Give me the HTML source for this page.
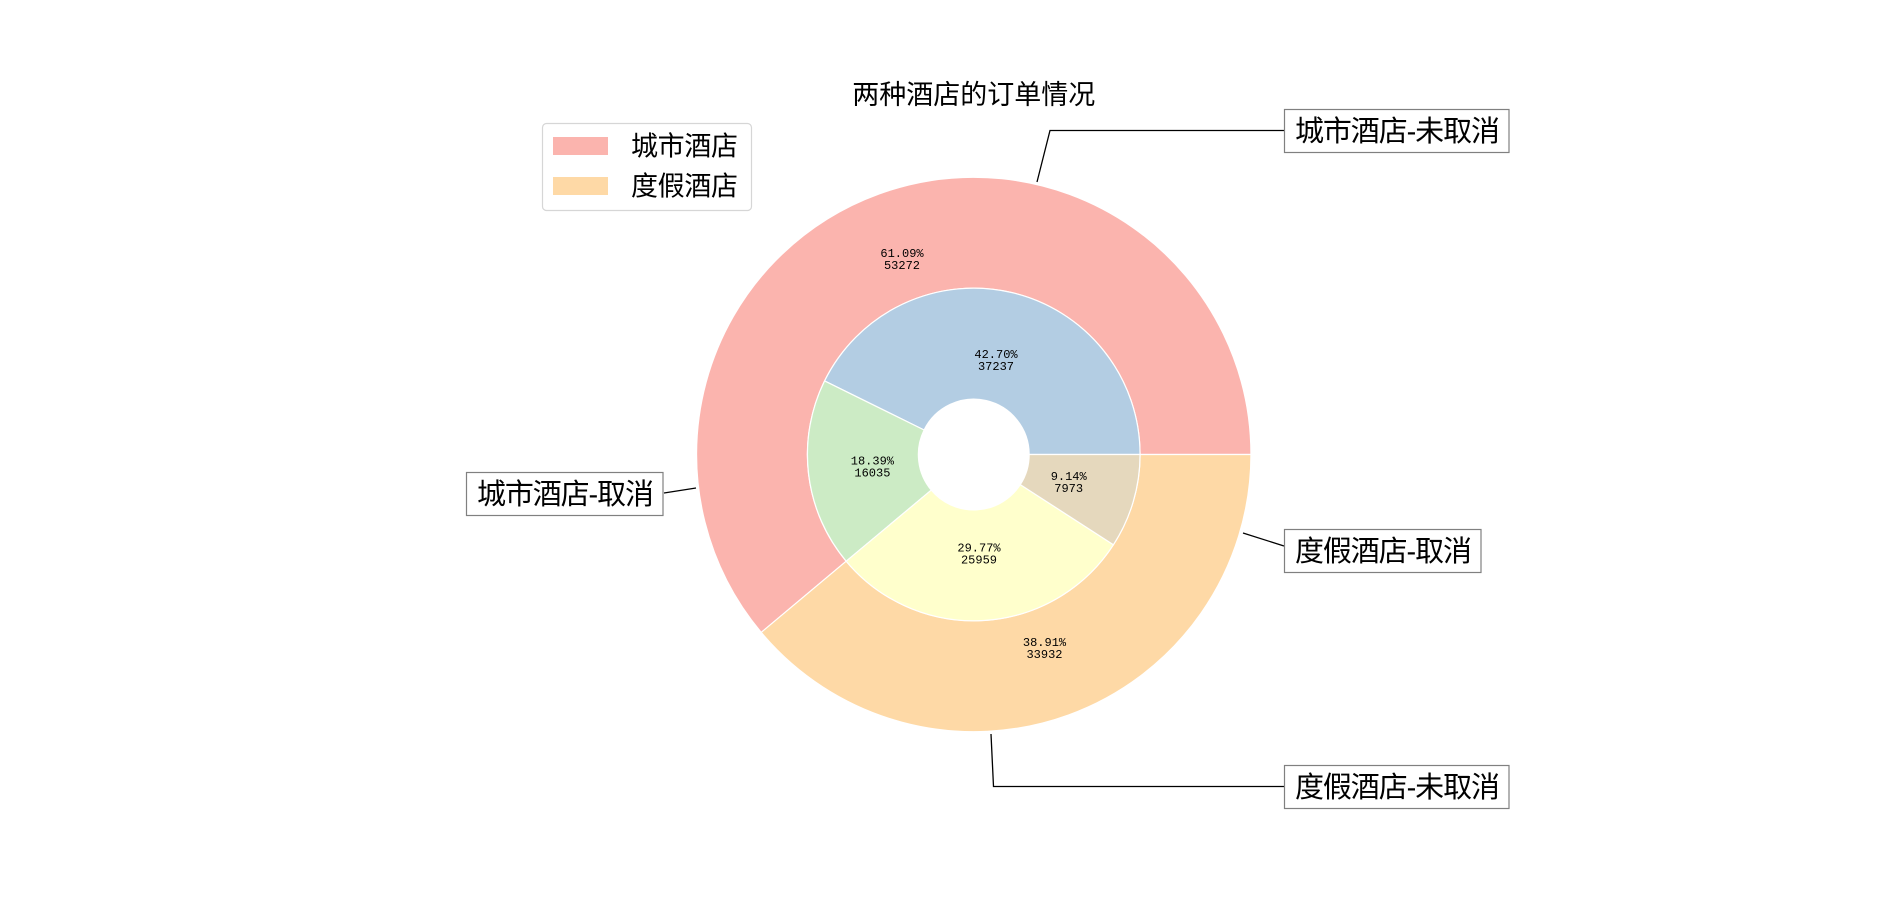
<!DOCTYPE html>
<html><head><meta charset="utf-8"><style>
html,body{margin:0;padding:0;background:#fff;}
svg{display:block;}
.cjk{font-family:"Liberation Sans","Noto Sans CJK SC",sans-serif;}
.lbl{font-family:"Liberation Mono","Noto Sans CJK SC",monospace;font-size:12px;fill:#000;}
</style></head><body>
<svg width="1900" height="900" viewBox="0 0 1900 900" xmlns="http://www.w3.org/2000/svg">
<rect width="1900" height="900" fill="#fff"/>
<g stroke="#fff" stroke-width="1.2" stroke-linejoin="round">
<path d="M1250.95,454.5 A277.2,277.2 0 1 0 761.2,632.4 L846.2,561.2 A166.3,166.3 0 1 1 1140.05,454.5 Z" fill="#fbb4ae"/>
<path d="M761.2,632.4 A277.2,277.2 0 0 0 1250.95,454.5 L1140.05,454.5 A166.3,166.3 0 0 1 846.2,561.2 Z" fill="#fed9a6"/>
<path d="M1140.05,454.5 A166.3,166.3 0 0 0 824.6,380.9 L924.1,430.0 A55.4,55.4 0 0 1 1029.15,454.5 Z" fill="#b3cde3"/>
<path d="M824.6,380.9 A166.3,166.3 0 0 0 846.2,561.2 L931.3,490.1 A55.4,55.4 0 0 1 924.1,430.0 Z" fill="#ccebc5"/>
<path d="M846.2,561.2 A166.3,166.3 0 0 0 1113.4,544.8 L1020.3,484.6 A55.4,55.4 0 0 1 931.3,490.1 Z" fill="#ffffcc"/>
<path d="M1113.4,544.8 A166.3,166.3 0 0 0 1140.05,454.5 L1029.15,454.5 A55.4,55.4 0 0 1 1020.3,484.6 Z" fill="#e5d8bd"/>
</g>
<g class="lbl" text-anchor="middle">
<text x="902" y="257">61.09%</text><text x="902" y="269">53272</text>
<text x="1044.5" y="646">38.91%</text><text x="1044.5" y="658">33932</text>
<text x="996" y="358">42.70%</text><text x="996" y="370">37237</text>
<text x="872.4" y="464.5">18.39%</text><text x="872.4" y="476.5">16035</text>
<text x="979" y="551.7">29.77%</text><text x="979" y="563.7">25959</text>
<text x="1068.7" y="480">9.14%</text><text x="1068.7" y="492">7973</text>
</g>
<text class="cjk" x="973.75" y="104" text-anchor="middle" font-size="27">两种酒店的订单情况</text>
<rect x="542.5" y="123.5" width="209" height="87" rx="4" fill="#fff" stroke="#d6d6d6" stroke-width="1.2"/>
<rect x="553" y="137" width="55" height="18" fill="#fbb4ae"/>
<rect x="553" y="177" width="55" height="18" fill="#fed9a6"/>
<text class="cjk" x="631" y="155.5" font-size="27" textLength="107">城市酒店</text>
<text class="cjk" x="631" y="195.5" font-size="27" textLength="107">度假酒店</text>
<g stroke="#000" stroke-width="1.3" fill="none">
<polyline points="1037,182 1050,130.5 1284,130.5"/>
<polyline points="696,488 664,493"/>
<polyline points="1243,533 1284,546"/>
<polyline points="991,734 993.5,786.5 1284,786.5"/>
</g>
<g fill="#fff" stroke="#808080" stroke-width="1.2">
<rect x="1284.5" y="109.5" width="224.5" height="43"/>
<rect x="466.5" y="472.5" width="196.5" height="43"/>
<rect x="1284.5" y="529.5" width="196.5" height="43"/>
<rect x="1284.5" y="765.5" width="224.5" height="43"/>
</g>
<g class="cjk" font-size="29" fill="#000">
<text x="1295" y="141" textLength="205">城市酒店-未取消</text>
<text x="477" y="504" textLength="177">城市酒店-取消</text>
<text x="1295" y="561" textLength="177">度假酒店-取消</text>
<text x="1295" y="797" textLength="205">度假酒店-未取消</text>
</g>
</svg>
</body></html>
